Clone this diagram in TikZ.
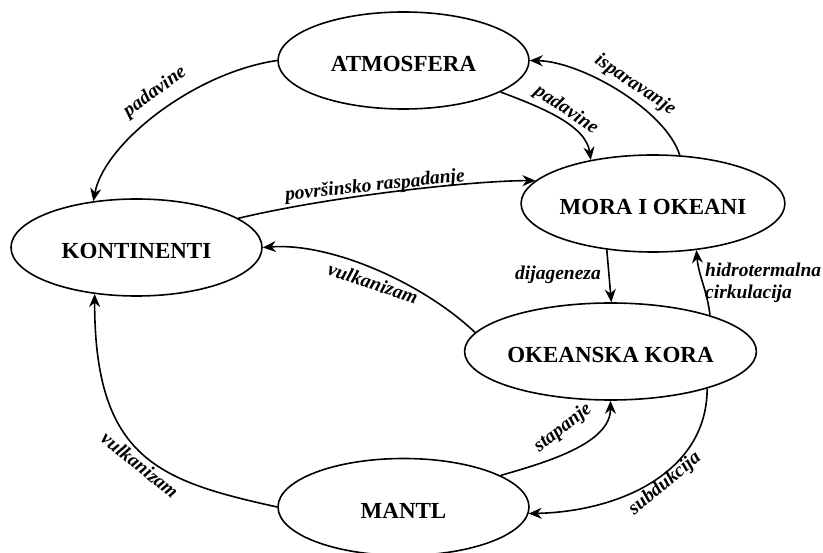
\documentclass[tikz,border=0pt]{standalone}
\usepackage{fontspec}
\setmainfont{Liberation Serif}
\usetikzlibrary{shapes.geometric,arrows.meta}
\begin{document}
\begin{tikzpicture}[x=1pt,y=-1pt,
  box/.style={ellipse,draw,line width=1.6pt,minimum width=251pt,minimum height=97pt,inner sep=0pt,text height=23pt,text depth=0pt,font=\fontsize{23}{27}\selectfont\bfseries},
  lab/.style={inner sep=0pt,font=\fontsize{19.5}{22}\selectfont\bfseries\itshape},
  flow/.style={line width=1.6pt,-{Stealth[length=13pt,width=11pt]}}]
\fill[white] (0,0) rectangle (823,553);
\useasboundingbox (0,0) rectangle (823,553);
\node[box] (atm) at (403.5,60.5) {ATMOSFERA};
\node[box] (kont) at (136.5,247.5) {KONTINENTI};
\node[box] (mora) at (653,203.5) {MORA I OKEANI};
\node[box] (okean) at (610.5,351.5) {OKEANSKA KORA};
\node[box] (mantl) at (403.5,507) {MANTL};
\draw[flow] (atm.180) .. controls +(-83,12) and +(11,-58) .. (kont.133);
\draw[flow] (atm.-18) .. controls +(40,15) and +(-5,-35) .. (mora.145);
\draw[flow] (mora.61) .. controls +(-14,-45) and +(52,1) .. (atm.0);
\draw[flow] (kont.16) .. controls +(92,-22) and +(-63,0) .. (mora.169);
\draw[flow] (okean.172) .. controls +(-53,-50) and +(68,-5) .. (kont.0);
\draw[flow] (mora.-135) -- (okean.89);
\draw[flow] (okean.20) .. controls +(-3,-25) and +(2,25) .. (mora.-47);
\draw[flow] (mantl.180) .. controls +(-118,-26) and +(0,165) .. (kont.-132.5);
\draw[flow] (mantl.18) .. controls +(45,-13) and +(0,43) .. (okean.-90);
\draw[flow] (okean.-21) .. controls +(0,83) and +(92,-2) .. (mantl.-3);
\node[lab,rotate=36] (l1) at (155,92) {padavine};
\node[lab,rotate=-34] (l2) at (566,110) {padavine};
\node[lab,rotate=-34] (l3) at (635,85) {isparavanje};
\node[lab,rotate=6] (l4) at (375,186) {površinsko raspadanje};
\node[lab,rotate=-18] (l5) at (373,283) {vulkanizam};
\node[lab] (l6) at (558,275) {dijageneza};
\node[lab,anchor=west,align=left] (l7) at (705,283) {hidrotermalna\\cirkulacija};
\node[lab,rotate=-39] (l8) at (140,465) {vulkanizam};
\node[lab,rotate=38] (l9) at (563,428) {stapanje};
\node[lab,rotate=40] (l10) at (665,484) {subdukcija};
\end{tikzpicture}
\end{document}
